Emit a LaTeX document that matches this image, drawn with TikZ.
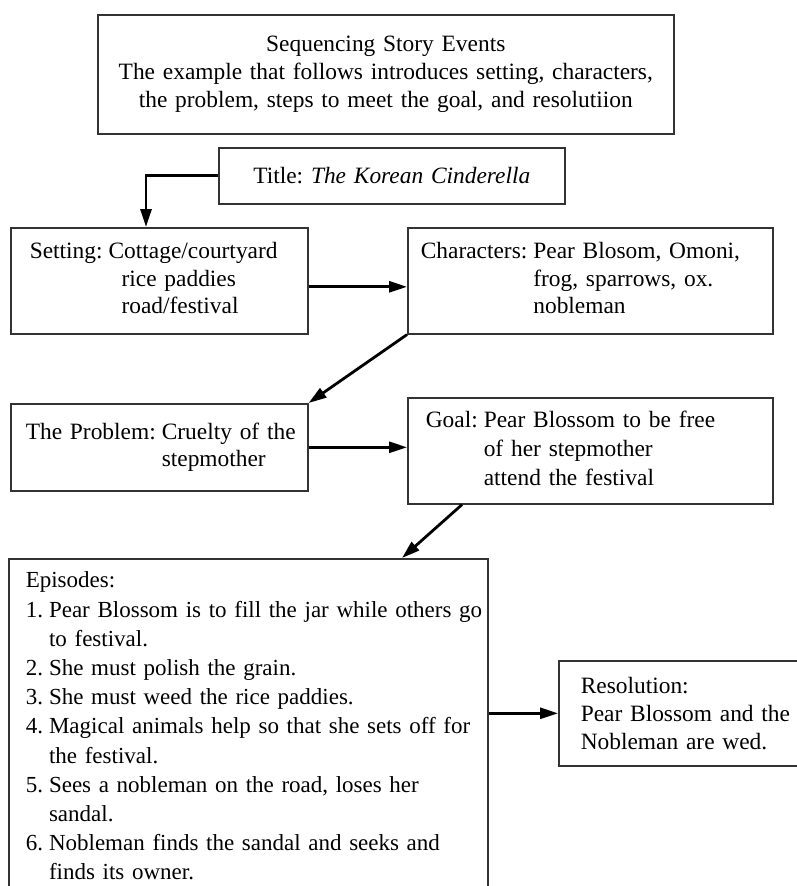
\documentclass[tikz,border=0pt]{standalone}
\usepackage{fontspec}
\setmainfont{Liberation Serif}
\usetikzlibrary{arrows.meta,positioning}
\frenchspacing

\begin{document}
\begin{tikzpicture}[x=1pt,y=-1pt,
    evbox/.style={draw=black!80,line width=1.6pt,anchor=north west,align=left,
      font=\fontsize{23.4}{27.6}\selectfont},
    link/.style={line width=2.8pt,-{Triangle[length=18pt,width=11pt]}}]
  \useasboundingbox (0,0) rectangle (797,886);
  % header and title
  \node[evbox,align=center,inner xsep=0pt,text width=576pt,minimum height=119pt] (TOP) at (97,14)
    {Sequencing Story Events\\The example that follows introduces setting, characters,\\the problem, steps to meet the goal, and resolutiion};
  \node[evbox,align=center,inner xsep=0pt,text width=346pt,minimum height=56pt] (TTL) at (218,147)
    {Title: \textit{The Korean Cinderella}};
  % story elements
  \node[evbox,inner xsep=19pt,text width=259pt,minimum height=106pt] (SET) at (10,227)
    {\begin{tabular}{@{}l@{\hspace{6pt}}l@{}}Setting:&Cottage/courtyard\\&\hspace{13pt}rice paddies\\&\hspace{13pt}road/festival\end{tabular}};
  \node[evbox,inner xsep=13pt,text width=339pt,minimum height=106pt] (CHR) at (407,227)
    {\begin{tabular}{@{}l@{\hspace{6pt}}l@{}}Characters:&Pear Blosom, Omoni,\\&frog, sparrows, ox.\\&nobleman\end{tabular}};
  \node[evbox,inner xsep=15pt,text width=267pt,minimum height=87pt] (PRB) at (10,403)
    {\begin{tabular}{@{}l@{\hspace{6pt}}l@{}}The Problem:&Cruelty of the\\&stepmother\end{tabular}};
  \node[evbox,inner xsep=18pt,text width=329pt,minimum height=106pt,font=\fontsize{23.4}{29}\selectfont] (GOL) at (407,397)
    {\begin{tabular}{@{}l@{\hspace{6pt}}l@{}}Goal:&Pear Blossom to be free\\&of her stepmother\\&attend the festival\end{tabular}};
  % episodes and resolution
  \node[evbox,inner xsep=17pt,inner ysep=8.6pt,text width=445pt,font=\fontsize{23}{29.2}\selectfont] (EPI) at (8,558)
    {\begin{tabular}{@{}l@{\hspace{6pt}}l@{}}
      \multicolumn{2}{@{}l@{}}{Episodes:}\\
      1.&Pear Blossom is to fill the jar while others go\\
        &to festival.\\
      2.&She must polish the grain.\\
      3.&She must weed the rice paddies.\\
      4.&Magical animals help so that she sets off for\\
        &the festival.\\
      5.&Sees a nobleman on the road, loses her\\
        &sandal.\\
      6.&Nobleman finds the sandal and seeks and\\
        &finds its owner.
    \end{tabular}};
  \node[evbox,inner xsep=22pt,text width=216pt,minimum height=105pt,font=\fontsize{23.4}{28}\selectfont] (RES) at (558,660)
    {Resolution:\\Pear Blossom and the\\Nobleman are wed.};
  % connectors
  \draw[link] (TTL.west) -| ([xshift=136pt]SET.north west);
  \draw[link] ([yshift=-6pt]SET.east) -- ([yshift=-6pt]SET.east -| CHR.west);
  \draw[link] (CHR.south west) -- (PRB.north east);
  \draw[link] (PRB.east) -- (PRB.east -| GOL.west);
  \draw[link] ([xshift=55pt]GOL.south west) -- ([xshift=394pt]EPI.north west);
  \draw[link] (RES.west -| EPI.east) -- (RES.west);
\end{tikzpicture}
\end{document}
